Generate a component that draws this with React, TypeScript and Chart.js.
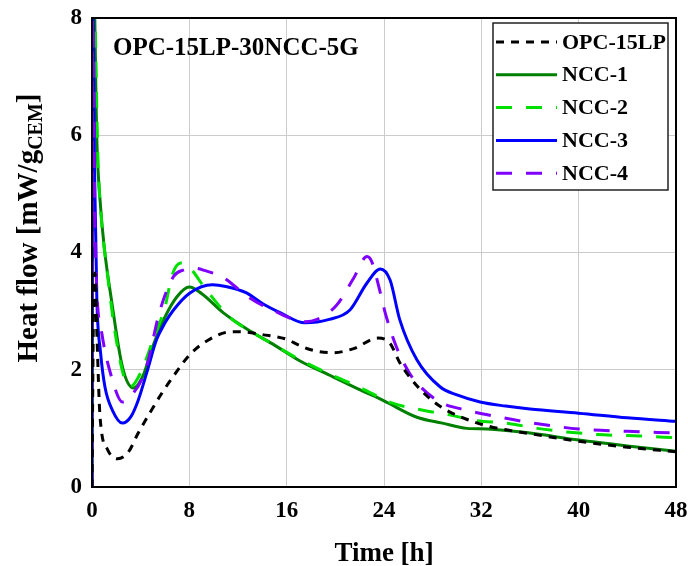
import React, { useEffect, useRef } from "react";
import { Chart, registerables } from "chart.js";

Chart.register(...registerables);

const FONT = "'Liberation Serif', 'Times New Roman', serif";

// ---- data (time in h, heat flow in mW/g_CEM) ----
const seriesNames = ["OPC-15LP", "NCC-1", "NCC-2", "NCC-3", "NCC-4"];

const opcT = [0, 0.12, 0.25, 0.4, 0.66, 1.3, 2.1, 3.0, 3.8, 4.8, 5.8, 7.0, 8.0, 9.5, 11.5, 12.7, 14, 16, 17, 18, 19.8, 21.5, 23.5, 24.5, 25.3, 27, 28.8, 30.5, 32.5, 36, 40, 44, 48];
const opcY = [0, 3.0, 3.65, 2.63, 1.2, 0.63, 0.48, 0.6, 0.92, 1.28, 1.62, 1.98, 2.25, 2.5, 2.65, 2.64, 2.6, 2.52, 2.42, 2.34, 2.29, 2.36, 2.54, 2.45, 2.12, 1.66, 1.35, 1.18, 1.04, 0.91, 0.78, 0.68, 0.6];

const ncc1T = [0, 0.1, 0.4, 0.66, 1.0, 1.6, 2.5, 3.4, 4.2, 4.9, 6.0, 7.0, 8.0, 9.0, 10.8, 13, 15, 17.1, 19.8, 22, 24, 26.7, 28.8, 30.8, 32.5, 36, 40, 44, 48];
const ncc1Y = [0, 9, 5.9, 4.9, 4.1, 3.19, 2.05, 1.69, 1.9, 2.34, 2.9, 3.25, 3.41, 3.3, 2.97, 2.66, 2.42, 2.15, 1.88, 1.66, 1.47, 1.19, 1.09, 1.0, 0.99, 0.92, 0.8, 0.7, 0.61];

const ncc2T = [0, 0.1, 0.5, 0.8, 1.2, 1.9, 2.7, 3.2, 4.0, 5.0, 6.0, 6.6, 7.3, 7.8, 9.4, 11.3, 13, 15, 17.1, 19.8, 22, 24.7, 27.2, 29.4, 31.6, 34, 36.6, 39, 42, 45, 48];
const ncc2Y = [0, 9, 5.5, 4.5, 3.75, 2.63, 1.83, 1.72, 1.95, 2.5, 3.07, 3.62, 3.82, 3.79, 3.36, 2.9, 2.66, 2.42, 2.17, 1.9, 1.7, 1.43, 1.31, 1.23, 1.13, 1.09, 1.0, 0.94, 0.89, 0.87, 0.84];

const ncc3T = [0, 0.05, 0.2, 0.4, 0.7, 1.07, 1.7, 2.5, 3.2, 3.8, 4.5, 5.3, 6.0, 6.7, 8.05, 9.9, 11, 12.7, 14, 15.5, 17.5, 19.5, 21.2, 22.6, 23.7, 24.5, 25.3, 26.7, 28.6, 30, 31.9, 34, 36, 40, 44, 48];
const ncc3Y = [0, 9, 5.5, 3.19, 2.3, 1.7, 1.3, 1.09, 1.2, 1.48, 1.95, 2.51, 2.8, 3.02, 3.31, 3.45, 3.42, 3.31, 3.13, 2.97, 2.8, 2.86, 3.02, 3.48, 3.72, 3.53, 2.85, 2.17, 1.71, 1.57, 1.45, 1.38, 1.33, 1.26, 1.18, 1.12];

const ncc4T = [0, 0.05, 0.25, 0.8, 1.6, 2.5, 3.2, 4.4, 5.6, 6.7, 7.5, 8.5, 9.3, 10.8, 12, 13, 15, 17.5, 18.5, 20.1, 21.5, 22.6, 23, 23.7, 24.1, 25, 26.1, 27, 28.6, 30.8, 33.3, 36, 40, 44, 48];
const ncc4Y = [0, 9, 4.3, 2.63, 1.88, 1.45, 1.55, 2.0, 3.02, 3.59, 3.7, 3.73, 3.69, 3.57, 3.38, 3.22, 3.0, 2.82, 2.86, 3.1, 3.56, 3.93, 3.84, 3.31, 2.97, 2.4, 1.94, 1.71, 1.45, 1.31, 1.2, 1.1, 0.99, 0.95, 0.92];

const xTicks = [0, 8, 16, 24, 32, 40, 48];
const yTicks = [0, 2, 4, 6, 8];

const panelTitle = "OPC-15LP-30NCC-5G";
const xTitle = "Time [h]";
const yTitleMain = "Heat flow [mW/g";
const yTitleSub = "CEM";
const yTitleEnd = "]";

const colors = ["#000000", "#008000", "#00e000", "#0000ff", "#7f00ff"];
const dashes = [[8, 7], [], [16, 14], [], [16, 14]];
const orders = [0, 5, 4, 3, 1];

const toPts = (t: number[], y: number[]) => t.map((v, i) => ({ x: v, y: y[i] }));

const overlay = {
  id: "overlay",
  afterDraw(chart: any) {
    const { ctx, chartArea: a } = chart;
    ctx.save();
    // frame
    ctx.setLineDash([]);
    ctx.strokeStyle = "#000";
    ctx.lineWidth = 2;
    ctx.strokeRect(a.left, a.top, a.right - a.left, a.bottom - a.top);

    // panel title
    ctx.fillStyle = "#000";
    ctx.textAlign = "left";
    ctx.textBaseline = "alphabetic";
    ctx.font = `bold 25px ${FONT}`;
    ctx.fillText(panelTitle, a.left + 21, a.top + 37);

    // legend
    const bx = a.right - 183;
    const by = a.top + 5;
    const bw = 175;
    const bh = 167;
    ctx.fillStyle = "#fff";
    ctx.fillRect(bx, by, bw, bh);
    ctx.strokeStyle = "#222";
    ctx.lineWidth = 1.5;
    ctx.strokeRect(bx, by, bw, bh);
    ctx.font = `bold 22px ${FONT}`;
    ctx.textBaseline = "middle";
    chart.data.datasets.forEach((ds: any, i: number) => {
      const yy = by + 19 + i * 32.8;
      ctx.beginPath();
      ctx.setLineDash(ds.borderDash || []);
      ctx.strokeStyle = ds.borderColor;
      ctx.lineWidth = 3;
      ctx.moveTo(bx + 3, yy);
      ctx.lineTo(bx + 64, yy);
      ctx.stroke();
      ctx.setLineDash([]);
      ctx.fillStyle = "#000";
      ctx.fillText(ds.label, bx + 69, yy + 1);
    });

    // x title
    ctx.textAlign = "center";
    ctx.textBaseline = "alphabetic";
    ctx.font = `bold 27px ${FONT}`;
    ctx.fillText(xTitle, (a.left + a.right) / 2, 561);

    // y title with subscript
    ctx.translate(37, 228);
    ctx.rotate(-Math.PI / 2);
    const fMain = `bold 29px ${FONT}`;
    const fSub = `bold 20px ${FONT}`;
    ctx.font = fMain;
    const w1 = ctx.measureText(yTitleMain).width;
    const w3 = ctx.measureText(yTitleEnd).width;
    ctx.font = fSub;
    const w2 = ctx.measureText(yTitleSub).width;
    let sx = -(w1 + w2 + w3) / 2;
    ctx.textAlign = "left";
    ctx.font = fMain;
    ctx.fillText(yTitleMain, sx, 0);
    sx += w1;
    ctx.font = fSub;
    ctx.fillText(yTitleSub, sx, 5);
    sx += w2;
    ctx.font = fMain;
    ctx.fillText(yTitleEnd, sx, 0);
    ctx.restore();
  },
};

export default function App() {
  const ref = useRef<HTMLCanvasElement>(null);
  useEffect(() => {
    if (!ref.current) return;
    const series = [
      toPts(opcT, opcY),
      toPts(ncc1T, ncc1Y),
      toPts(ncc2T, ncc2Y),
      toPts(ncc3T, ncc3Y),
      toPts(ncc4T, ncc4Y),
    ];
    const chart = new Chart(ref.current, {
      type: "line",
      data: {
        datasets: series.map((d, i) => ({
          label: seriesNames[i],
          data: d,
          borderColor: colors[i],
          backgroundColor: colors[i],
          borderDash: dashes[i],
          borderWidth: 3,
          pointRadius: 0,
          fill: false,
          cubicInterpolationMode: "monotone",
          order: orders[i],
        })),
      },
      options: {
        responsive: false,
        animation: false,
        devicePixelRatio: 1,
        layout: { padding: { top: 18, right: 12, left: 0, bottom: 0 } },
        plugins: { legend: { display: false }, tooltip: { enabled: false }, title: { display: false } },
        scales: {
          x: {
            type: "linear",
            min: xTicks[0],
            max: xTicks[xTicks.length - 1],
            afterFit: (s: any) => { s.height = 79; s.paddingLeft = 0; s.paddingRight = 0; },
            afterBuildTicks: (s: any) => { s.ticks = xTicks.map((v) => ({ value: v })); },
            ticks: { color: "#000", padding: 10, font: { family: FONT, size: 23, weight: "bold" } },
            grid: { color: "#cccccc", lineWidth: 1, drawTicks: false },
            border: { display: false },
          },
          y: {
            type: "linear",
            min: yTicks[0],
            max: yTicks[yTicks.length - 1],
            afterFit: (s: any) => { s.width = 92; s.paddingTop = 0; s.paddingBottom = 0; },
            afterBuildTicks: (s: any) => { s.ticks = yTicks.map((v) => ({ value: v })); },
            ticks: { color: "#000", padding: 10, font: { family: FONT, size: 23, weight: "bold" } },
            grid: { color: "#cccccc", lineWidth: 1, drawTicks: false },
            border: { display: false },
          },
        },
      },
      plugins: [overlay],
    } as any);
    return () => chart.destroy();
  }, []);
  return (
    <div style={{ position: "absolute", left: 0, top: 0, width: 688, height: 566, background: "#fff" }}>
      <canvas ref={ref} width={688} height={566} style={{ display: "block" }} />
    </div>
  );
}
